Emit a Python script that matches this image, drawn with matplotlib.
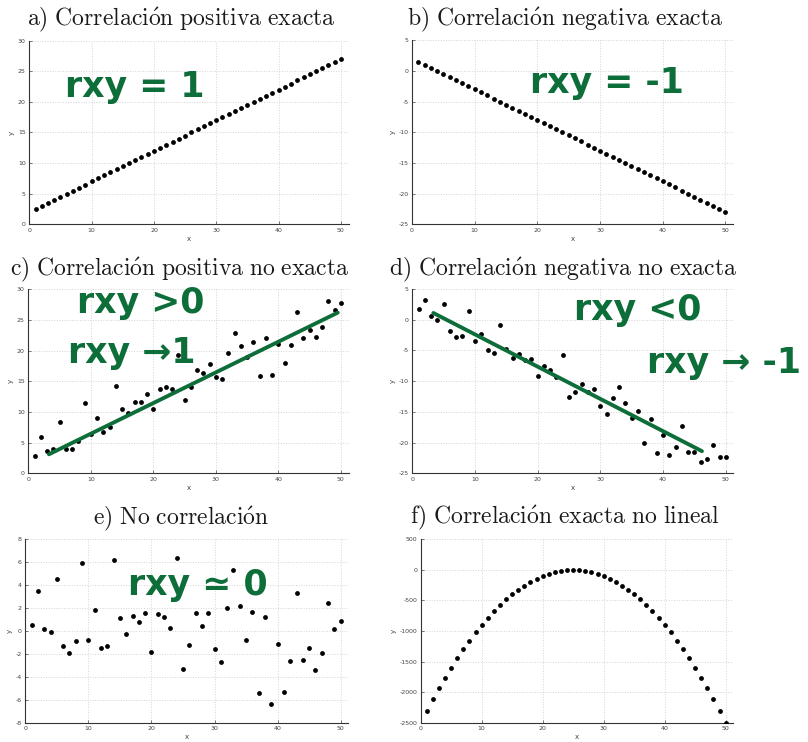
import numpy as np
import matplotlib
matplotlib.use("Agg")
import matplotlib.pyplot as plt

plt.rcParams["mathtext.fontset"] = "cm"
plt.rcParams["axes.unicode_minus"] = False

W, H = 808, 742
GREEN = "#0e6e3a"

x = np.arange(1, 51)

# a) exact positive
y_a = [2.5, 3.0, 3.5, 4.0, 4.5, 5.0, 5.5, 6.0, 6.5, 7.0, 7.5, 8.0, 8.5, 9.0, 9.5,
       10.0, 10.5, 11.0, 11.5, 12.0, 12.5, 13.0, 13.5, 14.0, 14.5, 15.0, 15.5, 16.0,
       16.5, 17.0, 17.5, 18.0, 18.5, 19.0, 19.5, 20.0, 20.5, 21.0, 21.5, 22.0, 22.5,
       23.0, 23.5, 24.0, 24.5, 25.0, 25.5, 26.0, 26.5, 27.0]
# b) exact negative
y_b = [1.5, 1.0, 0.5, 0.0, -0.5, -1.0, -1.5, -2.0, -2.5, -3.0, -3.5, -4.0, -4.5,
       -5.0, -5.5, -6.0, -6.5, -7.0, -7.5, -8.0, -8.5, -9.0, -9.5, -10.0, -10.5,
       -11.0, -11.5, -12.0, -12.5, -13.0, -13.5, -14.0, -14.5, -15.0, -15.5, -16.0,
       -16.5, -17.0, -17.5, -18.0, -18.5, -19.0, -19.5, -20.0, -20.5, -21.0, -21.5,
       -22.0, -22.5, -23.0]
# c) noisy positive
y_c = [2.9, 5.9, 3.7, 3.9, 8.3, 4.0, 3.9, 5.3, 11.5, 6.4, 9.0, 6.8, 7.5, 14.2, 10.5,
       9.9, 11.6, 11.6, 12.9, 10.5, 13.7, 14.1, 13.7, 19.3, 11.9, 14.1, 16.8, 16.4,
       17.8, 15.7, 15.3, 19.6, 22.9, 20.8, 18.9, 21.4, 15.9, 22.0, 16.1, 21.1, 18.0,
       20.9, 26.3, 22.0, 23.3, 22.2, 23.9, 28.1, 26.7, 27.7]
# d) noisy negative
y_d = [1.8, 3.2, 0.6, -0.1, 2.5, -1.8, -2.8, -2.6, 1.4, -3.5, -2.3, -4.9, -5.4, -0.9,
       -4.8, -6.2, -5.6, -6.5, -6.4, -9.2, -7.5, -8.2, -9.3, -5.7, -12.6, -11.8,
       -10.5, -11.7, -11.3, -14.1, -15.3, -12.7, -11.0, -13.5, -16.0, -14.9, -20.0,
       -16.2, -21.7, -18.7, -22.0, -20.7, -17.3, -21.5, -21.5, -23.2, -22.7, -20.4,
       -22.3, -22.4]
# e) no correlation
y_e = [0.5, 3.5, 0.2, -0.1, 4.5, -1.3, -1.9, -0.9, 5.9, -0.8, 1.8, -1.5, -1.3, 6.2,
       1.1, -0.3, 1.3, 0.8, 1.6, -1.8, 1.5, 1.2, 0.3, 6.4, -3.3, -1.2, 1.6, 0.4, 1.6,
       -1.6, -2.7, 2.0, 5.3, 2.2, -0.8, 1.7, -5.4, 1.2, -6.4, -1.1, -5.3, -2.6, 3.3,
       -2.5, -1.5, -3.4, -1.9, 2.4, 0.2, 0.9]
# f) exact non-linear
y_f = [-2304, -2116, -1936, -1764, -1600, -1444, -1296, -1156, -1024, -900, -784,
       -676, -576, -484, -400, -324, -256, -196, -144, -100, -64, -36, -16, -4, 0,
       -4, -16, -36, -64, -100, -144, -196, -256, -324, -400, -484, -576, -676,
       -784, -900, -1024, -1156, -1296, -1444, -1600, -1764, -1936, -2116, -2304,
       -2500]

# hand-drawn trend lines (start, end)
line_c_x, line_c_y = [3.3, 49.5], [3.1, 26.2]
line_d_x, line_d_y = [3.35, 46.2], [1.1, -21.4]

titles = [
    r"$\mathrm{a)\ Correlaci\acute{o}n\ positiva\ exacta}$",
    r"$\mathrm{b)\ Correlaci\acute{o}n\ negativa\ exacta}$",
    r"$\mathrm{c)\ Correlaci\acute{o}n\ positiva\ no\ exacta}$",
    r"$\mathrm{d)\ Correlaci\acute{o}n\ negativa\ no\ exacta}$",
    r"$\mathrm{e)\ No\ correlaci\acute{o}n}$",
    r"$\mathrm{f)\ Correlaci\acute{o}n\ exacta\ no\ lineal}$",
]
series = [y_a, y_b, y_c, y_d, y_e, y_f]
ylims = [(0, 30), (-25, 5), (0, 30), (-25, 5), (-8, 8), (-2500, 500)]
ysteps = [5, 5, 5, 5, 2, 500]

# axes boxes in pixels: left, top, right, bottom ; and xlim max
boxes = [
    (29.3, 40.7, 349, 224.3, 51.3),
    (412, 40.3, 733, 224.3, 51.2),
    (28.3, 289.3, 349, 473.3, 51.3),
    (412.3, 289, 733.3, 473.3, 51.2),
    (25.3, 539.3, 348.3, 722.7, 51.2),
    (420.7, 539.3, 733.3, 722.7, 51.25),
]
title_pos = [(181, 25), (565, 25), (180, 275), (563, 275), (181, 524), (565, 523)]

fig = plt.figure(figsize=(W / 100, H / 100), dpi=100)

axes = []
for i, (l, t, r, b, xmax) in enumerate(boxes):
    ax = fig.add_axes([l / W, 1 - b / H, (r - l) / W, (b - t) / H])
    ax.scatter(x, series[i], s=12, color="black", zorder=3, linewidths=0)
    ax.set_xlim(0, xmax)
    ax.set_ylim(*ylims[i])
    ax.set_xticks(np.arange(0, 51, 10))
    ax.set_yticks(np.arange(ylims[i][0], ylims[i][1] + 1, ysteps[i]))
    ax.grid(True, color="#d4d4d4", linestyle=":", linewidth=0.7)
    for s in ["top", "right"]:
        ax.spines[s].set_visible(False)
    for s in ["left", "bottom"]:
        ax.spines[s].set_color("#333333")
        ax.spines[s].set_linewidth(0.8)
    ax.tick_params(labelsize=4.5, colors="#444444", length=2, width=0.5,
                   direction="in", pad=2.5)
    ax.set_xlabel("x", fontsize=5, color="#444444", labelpad=2)
    ax.set_ylabel("y", fontsize=5, color="#444444", labelpad=2)
    fig.text(title_pos[i][0] / W, 1 - title_pos[i][1] / H, titles[i],
             fontsize=17, ha="center", va="baseline", color="#1a1a1a")
    axes.append(ax)

axes[2].plot(line_c_x, line_c_y, color=GREEN, lw=2.8, solid_capstyle="round", zorder=4)
axes[3].plot(line_d_x, line_d_y, color=GREEN, lw=2.8, solid_capstyle="round", zorder=4)

# handwritten notes: text, left px, baseline px
notes = [
    ("rxy = 1", 65, 97),
    ("rxy = -1", 530, 93),
    ("rxy >0", 77, 313),
    ("rxy →1", 68, 363),
    ("rxy <0", 574, 320),
    ("rxy → -1", 647, 373),
    ("rxy ≃ 0", 128, 595),
]
for txt, px, py in notes:
    fig.text(px / W, 1 - py / H, txt, fontsize=25, fontweight="bold",
             color=GREEN, ha="left", va="baseline", family="DejaVu Sans")

fig.savefig("out.png", dpi=100)
